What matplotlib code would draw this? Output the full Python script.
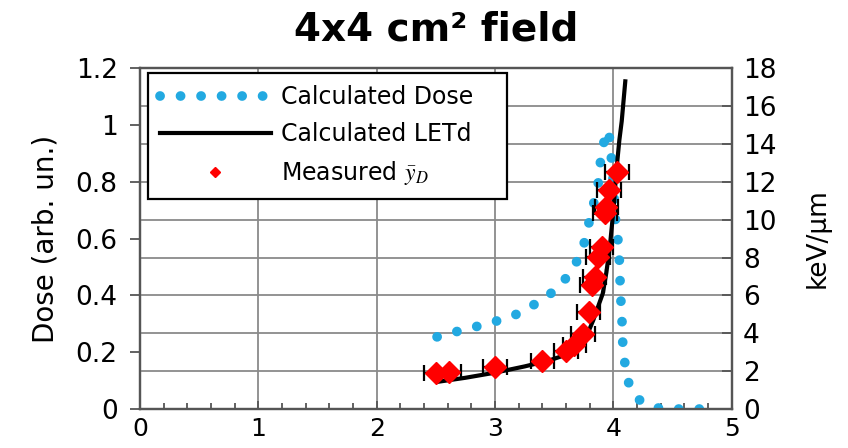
import numpy as np
import matplotlib
matplotlib.use('Agg')
import matplotlib.pyplot as plt
from matplotlib.lines import Line2D
from matplotlib.ticker import MultipleLocator

plt.rcParams['font.family'] = ['DejaVu Sans']
plt.rcParams['mathtext.fontset'] = 'stix'

# calculated dose (left axis, arb. un.)
dose_x = [2.51, 2.67, 2.83, 2.99, 3.15, 3.29, 3.43, 3.55, 3.65, 3.72, 3.77, 3.80,
          3.84, 3.87, 3.88, 3.91, 3.93, 3.96, 3.99, 4.02, 4.04, 4.05, 4.055, 4.06,
          4.07, 4.075, 4.08, 4.10, 4.13, 4.22, 4.4, 4.6, 4.8]
dose_y = [0.254, 0.272, 0.289, 0.307, 0.327, 0.358, 0.392, 0.436, 0.487, 0.544, 0.606, 0.671,
          0.735, 0.788, 0.847, 0.911, 0.970, 0.98, 0.85, 0.65, 0.59, 0.524, 0.463, 0.40,
          0.336, 0.278, 0.214, 0.151, 0.09, 0.032, 0.0, 0.0, 0.0]

# calculated LETd (right axis, keV/um)
let_x = [2.53, 2.75, 3.0, 3.25, 3.45, 3.55, 3.65, 3.72, 3.79, 3.83, 3.87, 3.91,
         3.94, 3.97, 4.0, 4.025, 4.05, 4.07, 4.1]
let_y = [1.45, 1.65, 1.92, 2.25, 2.55, 2.76, 3.0, 3.4, 4.1, 4.7, 5.4, 6.1,
         7.2, 8.6, 10.5, 12.6, 14.2, 15.2, 17.3]

# measured yD with depth uncertainty
meas_x = [2.50, 2.61, 3.00, 3.40, 3.60, 3.67, 3.74, 3.79, 3.82, 3.84, 3.87, 3.90,
          3.93, 3.94, 3.96, 4.03]
meas_y = [1.92, 1.97, 2.20, 2.55, 3.08, 3.40, 3.95, 5.14, 6.55, 6.98, 8.04, 8.57,
          10.33, 10.68, 11.56, 12.53]
meas_err = 0.1

left_ticks = [0, 0.2, 0.4, 0.6, 0.8, 1.0, 1.2]
left_labels = ['0', '0.2', '0.4', '0.6', '0.8', '1', '1.2']
right_ticks = list(range(0, 19, 2))

blue = '#22a9e1'
spine_c = '#555555'
grid_c = '#8a8a8a'
dotted = (0, (0.01, 2.1))

fig = plt.figure(figsize=(8.48, 4.48), dpi=100)
ax = fig.add_subplot(111)
fig.subplots_adjust(left=0.165, right=0.863, bottom=0.087, top=0.848)
ax2 = ax.twinx()

ax.set_xlim(0, 5)
ax.set_ylim(0, 1.2)
ax2.set_ylim(0, 18)

ax.set_xticks(range(6))
ax.xaxis.set_minor_locator(MultipleLocator(0.2))
ax.set_yticks(left_ticks)
ax.set_yticklabels(left_labels)
ax2.set_yticks(right_ticks)

ax.grid(axis='x', color=grid_c, lw=1.3)
ax2.grid(axis='y', color=grid_c, lw=1.3)
ax2.set_axisbelow(True)

ax.tick_params(axis='y', direction='out', length=7, width=1.3, color=spine_c,
               labelsize=19, pad=9)
ax.tick_params(axis='x', which='major', direction='in', length=6, width=1.3, color=spine_c,
               labelsize=18, pad=6)
ax.tick_params(axis='x', which='minor', direction='in', length=4, width=1.3, color=spine_c)
ax2.tick_params(axis='y', direction='in', length=7, width=1.3, color=spine_c,
                labelsize=19, pad=8)

for a in (ax, ax2):
    for s in a.spines.values():
        s.set_color(spine_c)
        s.set_linewidth(1.6)

# dose curve drawn on the twin axes but in left-axis units
ax2.plot(dose_x, dose_y, transform=ax.transData, color=blue, lw=7,
         linestyle=dotted, dash_capstyle='round', zorder=2)
ax2.plot(let_x, let_y, color='black', lw=3, zorder=3)
ax2.errorbar(meas_x, meas_y, xerr=meas_err, fmt='D', color='red', ms=11,
             ecolor='black', elinewidth=1.6, capsize=5.5, capthick=1.6, zorder=4)

ax.set_ylabel('Dose (arb. un.)', fontsize=20, labelpad=12)
ax2.set_ylabel('keV/μm', fontsize=19, labelpad=20)
ax.set_title('4x4 cm² field', fontsize=28, fontweight='bold', pad=20)

handles = [
    Line2D([], [], color=blue, lw=7, linestyle=dotted, dash_capstyle='round'),
    Line2D([], [], color='black', lw=3),
    Line2D([], [], color='red', marker='D', ms=5.5, lw=0),
]
labels = ['Calculated Dose', 'Calculated LETd', r'Measured $\bar{y}_D$']
leg = ax2.legend(handles, labels, loc='upper left', bbox_to_anchor=(0.0135, 0.985, 0.606, 0.0),
                 mode='expand', borderaxespad=0, fontsize=17, handlelength=4.7,
                 fancybox=False, framealpha=1, edgecolor='black', labelspacing=0.55,
                 borderpad=0.5, handletextpad=0.45)
leg.get_frame().set_linewidth(1.6)

fig.savefig('out.png', dpi=100)
